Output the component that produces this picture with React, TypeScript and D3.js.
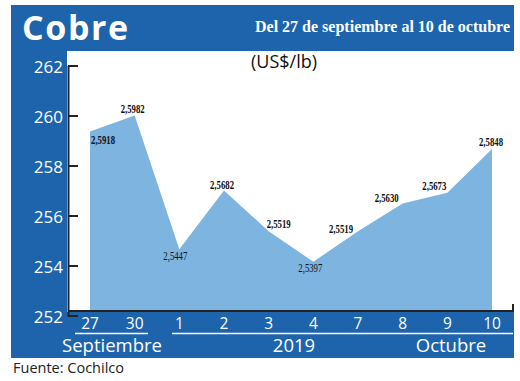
import React from 'react';
import * as d3 from 'd3';

const days = ['27', '30', '1', '2', '3', '4', '7', '8', '9', '10'];
const prices = [2.5918, 2.5982, 2.5447, 2.5682, 2.5519, 2.5397, 2.5519, 2.563, 2.5673, 2.5848];
const yTicks = [252, 254, 256, 258, 260, 262];
const labelOffsets: [number, number][] = [
  [13, 12], [-2, -3], [-4, 11], [-2, -2], [10, -3], [-3, 10], [-17, 2], [-16, -2], [-13, -3], [-1, -3],
];
const lightLabels = [false, false, true, false, false, true, false, false, false, false];

const BLUE = '#1d64ad';
const AREA = '#7db4e0';
const SANS = "'Open Sans', 'Noto Sans', sans-serif";
const SERIF = "'Liberation Serif', 'DejaVu Serif', serif";

export default function App() {
  const x = d3.scalePoint<string>().domain(days).range([90, 492]);
  const y = d3.scaleLinear().domain([252, 262]).range([311, 61]);
  const axisShift = 5;

  const data = days.map((d, i) => ({ d, v: prices[i] * 100, raw: prices[i] }));
  const area = d3
    .area<{ d: string; v: number }>()
    .x((p) => x(p.d) as number)
    .y0(y(252))
    .y1((p) => y(p.v));

  const fmt = (v: number) => v.toFixed(4).replace('.', ',');

  return (
    <svg width={520} height={381} style={{ position: 'absolute', left: 0, top: 0, background: '#fff' }}>
      {/* frame */}
      <rect x={11} y={5} width={503} height={46} fill={BLUE} />
      <rect x={11} y={5} width={56} height={353} fill={BLUE} />
      <rect x={11} y={312} width={503} height={46} fill={BLUE} />

      <text x={22} y={40} fill="#fff" fontFamily={SANS} fontWeight={700} fontSize={34} letterSpacing={1.6}>
        Cobre
      </text>
      <text x={510} y={32} fill="#fff" fontFamily={SERIF} fontWeight={700} fontSize={16.5} textAnchor="end" textLength={255} lengthAdjust="spacingAndGlyphs">
        Del 27 de septiembre al 10 de octubre
      </text>
      <text x={284} y={68} fill="#111" fontFamily={SANS} fontSize={18} textAnchor="middle">
        (US$/lb)
      </text>

      {/* area */}
      <path d={area(data) as string} fill={AREA} />

      {/* x axis line */}
      <line x1={68} x2={513} y1={311} y2={311} stroke="#222" strokeWidth={2} />
      <line x1={513} x2={513} y1={304} y2={312} stroke="#222" strokeWidth={2} />

      {/* y axis */}
      <line x1={68.5} x2={68.5} y1={y(262) + axisShift} y2={y(252) + axisShift + 1} stroke="#222" strokeWidth={2} />
      {yTicks.map((t) => (
        <g key={t} transform={`translate(0,${y(t) + axisShift})`}>
          <line x1={68} x2={78} stroke="#222" strokeWidth={2} />
          <text x={63} y={7} fill="#fff" fontFamily={SANS} fontSize={17} textAnchor="end">
            {t}
          </text>
        </g>
      ))}

      {/* value labels */}
      {data.map((p, i) => (
        <text
          key={p.d}
          x={(x(p.d) as number) + labelOffsets[i][0]}
          y={y(p.v) + labelOffsets[i][1]}
          fill="#111"
          fontFamily={SERIF}
          fontWeight={lightLabels[i] ? 400 : 700}
          fontSize={13.5}
          textAnchor="middle"
          textLength={24}
          lengthAdjust="spacingAndGlyphs"
        >
          {fmt(p.raw)}
        </text>
      ))}

      {/* x tick labels */}
      {days.map((d) => (
        <text key={d} x={x(d) as number} y={329} fill="#fff" fontFamily={SANS} fontSize={15.5} textAnchor="middle">
          {d}
        </text>
      ))}
      <line x1={75} x2={148} y1={333.5} y2={333.5} stroke="#fff" strokeWidth={1.5} />
      <line x1={172} x2={513} y1={333.5} y2={333.5} stroke="#fff" strokeWidth={1.5} />
      <text x={112} y={352} fill="#fff" fontFamily={SANS} fontSize={18.5} textAnchor="middle">
        Septiembre
      </text>
      <text x={294} y={352} fill="#fff" fontFamily={SANS} fontSize={18.5} textAnchor="middle">
        2019
      </text>
      <text x={451} y={352} fill="#fff" fontFamily={SANS} fontSize={18.5} textAnchor="middle">
        Octubre
      </text>

      <text x={13} y={373} fill="#222" fontFamily={SANS} fontSize={14.5}>
        Fuente: Cochilco
      </text>
    </svg>
  );
}
